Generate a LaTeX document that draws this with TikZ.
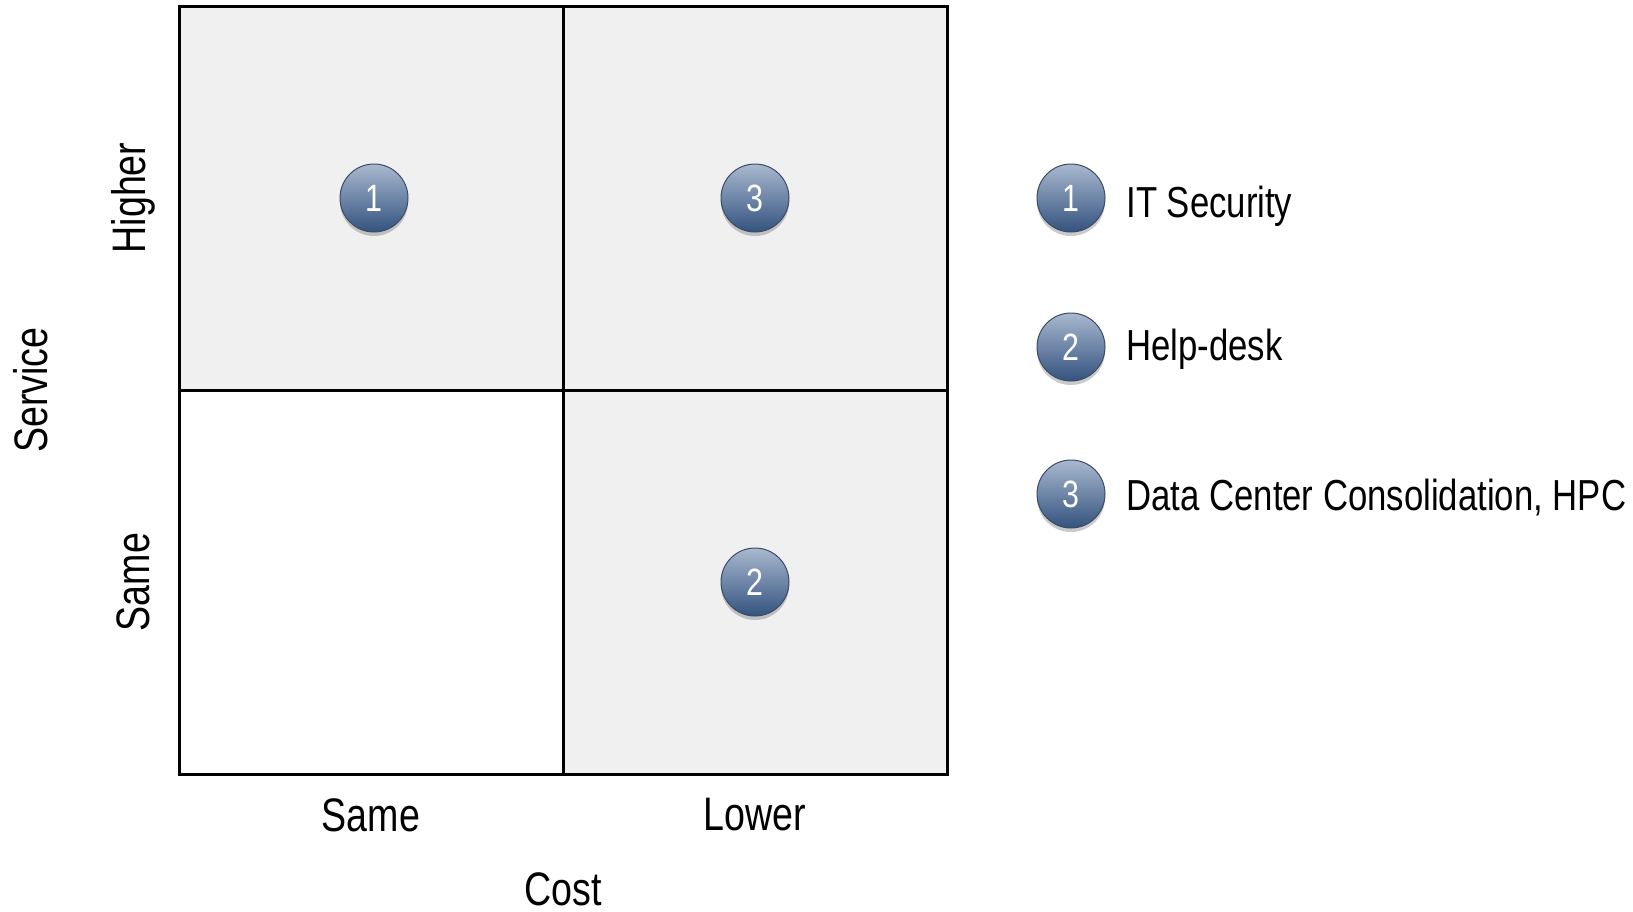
\documentclass[tikz,border=0pt]{standalone}
\usepackage{fontspec}
\setmainfont{Liberation Sans}[FakeStretch=0.8]
\usetikzlibrary{shadows}
\definecolor{cellgray}{HTML}{F0F0F0}
\definecolor{balltop}{HTML}{A8B8CF}
\definecolor{ballbot}{HTML}{34537F}
\definecolor{ballrim}{HTML}{3C4C64}
\tikzset{
  cell/.style={draw=black, line width=1.5pt},
  ball/.style={circle, minimum size=34pt, inner sep=0pt, draw=ballrim, line width=0.5pt,
    top color=balltop, bottom color=ballbot, text=white,
    font=\fontsize{19}{19}\selectfont,
    drop shadow={shadow xshift=0pt, shadow yshift=-2pt, opacity=0.35, fill=black!60}},
  axislbl/.style={font=\fontsize{23.5}{24}\selectfont, inner sep=0pt},
  legendlbl/.style={font=\fontsize{21.7}{22}\selectfont, anchor=west, inner sep=0pt}
}
\begin{document}
\begin{tikzpicture}[x=0.5pt,y=-0.5pt]
\useasboundingbox (0,0) rectangle (1633,911);
% quadrant fills
\fill[cellgray] (179,6) rectangle (563,390);
\fill[cellgray] (563,6) rectangle (947,390);
\fill[white] (179,390) rectangle (563,774);
\fill[cellgray] (563,390) rectangle (947,774);
% grid lines
\draw[cell] (179,6) rectangle (947,774);
\draw[cell] (563,6) -- (563,774);
\draw[cell] (179,390) -- (947,390);
% markers in the quadrants
\node[ball] (q1) at (374,198) {1};
\node[ball] (q3) at (755,198) {3};
\node[ball] (q2) at (755,582) {2};
% legend
\node[ball] (l1) at (1071,198) {1};
\node[ball] (l2) at (1071,347) {2};
\node[ball] (l3) at (1071,494) {3};
\node[legendlbl] (t1) at (1126,206) {IT Security};
\node[legendlbl] (t2) at (1126,349) {Help-desk};
\node[legendlbl] (t3) at (1126,498) {Data Center Consolidation, HPC};
% axis labels
\node[axislbl] (xs) at (371,815) {Same};
\node[axislbl] (xl) at (755,815) {Lower};
\node[axislbl, anchor=base, text depth=0pt] (xc) at (563,905) {Cost};
\node[axislbl, rotate=90] (ys) at (31,390) {Service};
\node[axislbl, rotate=90] (yh) at (133,198) {Higher};
\node[axislbl, rotate=90] (ysm) at (133,582) {Same};
\end{tikzpicture}
\end{document}
